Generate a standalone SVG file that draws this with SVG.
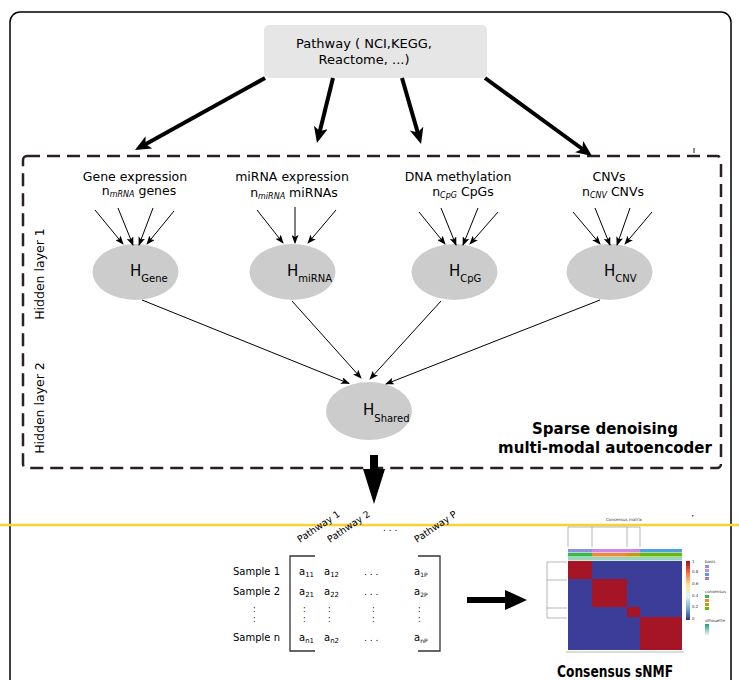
<svg xmlns="http://www.w3.org/2000/svg" width="739" height="680" viewBox="0 0 739 680">
<style>
text{font-family:"DejaVu Sans","Liberation Sans",sans-serif;fill:#000}
.lbl{font-size:12.5px}
.bold{font-weight:bold;font-size:15px}
.ell{fill:#cccccc}
.thin{stroke:#000;stroke-width:1;fill:none;marker-end:url(#ah)}
.thick{stroke:#000;stroke-width:4;fill:none;marker-end:url(#AH)}
.hm{font-size:4px;fill:#333}
</style>
<defs>
<marker id="ah" markerUnits="userSpaceOnUse" viewBox="0 0 9 7" markerWidth="9" markerHeight="7" refX="8" refY="3.5" orient="auto">
<path d="M0,0 L9,3.5 L0,7 L2,3.5 z" fill="#000"/>
</marker>
<marker id="AH" markerUnits="userSpaceOnUse" viewBox="0 0 16 14" markerWidth="16" markerHeight="14" refX="5" refY="7" orient="auto">
<path d="M0,0 L16,7 L0,14 L4,7 z" fill="#000"/>
</marker>
<linearGradient id="cs" x1="0" y1="0" x2="0" y2="1">
<stop offset="0" stop-color="#a50f26"/>
<stop offset="0.2" stop-color="#f46d43"/>
<stop offset="0.4" stop-color="#fee090"/>
<stop offset="0.6" stop-color="#e0f3f8"/>
<stop offset="0.8" stop-color="#74add1"/>
<stop offset="1" stop-color="#313695"/>
</linearGradient>
<linearGradient id="sil" x1="0" y1="0" x2="0" y2="1">
<stop offset="0" stop-color="#1b9e77"/>
<stop offset="1" stop-color="#ffffff"/>
</linearGradient>
</defs>

<rect x="10" y="12" width="721" height="700" rx="10" fill="none" stroke="#000" stroke-width="1.5"/>
<rect x="23" y="156" width="698" height="312" rx="4" fill="none" stroke="#2b2020" stroke-width="2.5" stroke-dasharray="13 7"/>
<line x1="694" y1="148" x2="694" y2="153" stroke="#2b2020" stroke-width="1"/>

<g id="pathway">
<rect x="264" y="25" width="223" height="53" rx="5" fill="#e6e6e6"/>
<text x="364" y="48" font-size="13" text-anchor="middle">Pathway ( NCI,KEGG,</text>
<text x="364" y="64" font-size="13" text-anchor="middle">Reactome, ...)</text>
</g>

<g id="gene-input">
<text class="lbl" x="135" y="181" text-anchor="middle">Gene expression</text>
<text class="lbl" x="139" y="195" text-anchor="middle">n<tspan font-size="8" font-style="italic" dy="2">mRNA</tspan><tspan dy="-2"> genes</tspan></text>
</g>
<g id="mirna-input">
<text class="lbl" x="292" y="181" text-anchor="middle">miRNA expression</text>
<text class="lbl" x="294" y="197" text-anchor="middle">n<tspan font-size="8" font-style="italic" dy="2">miRNA</tspan><tspan dy="-2"> miRNAs</tspan></text>
</g>
<g id="dna-input">
<text class="lbl" x="458" y="181" text-anchor="middle">DNA methylation</text>
<text class="lbl" x="463" y="196" text-anchor="middle">n<tspan font-size="8" font-style="italic" dy="2">CpG</tspan><tspan dy="-2"> CpGs</tspan></text>
</g>
<g id="cnv-input">
<text class="lbl" x="609" y="181" text-anchor="middle">CNVs</text>
<text class="lbl" x="613" y="196" text-anchor="middle">n<tspan font-size="8" font-style="italic" dy="2">CNV</tspan><tspan dy="-2"> CNVs</tspan></text>
</g>

<g id="h-gene">
<ellipse class="ell" cx="135.5" cy="272" rx="43" ry="28"/>
<text x="130" y="276" font-size="15">H<tspan font-size="10" dy="6">Gene</tspan></text>
</g>
<g id="h-mirna">
<ellipse class="ell" cx="292.5" cy="272" rx="43" ry="28"/>
<text x="287" y="276" font-size="15">H<tspan font-size="10" dy="6">miRNA</tspan></text>
</g>
<g id="h-cpg">
<ellipse class="ell" cx="454.5" cy="272" rx="43" ry="28"/>
<text x="449" y="276" font-size="15">H<tspan font-size="10" dy="6">CpG</tspan></text>
</g>
<g id="h-cnv">
<ellipse class="ell" cx="609.5" cy="272" rx="43" ry="28"/>
<text x="604" y="276" font-size="15">H<tspan font-size="10" dy="6">CNV</tspan></text>
</g>
<g id="h-shared">
<ellipse class="ell" cx="369" cy="411" rx="43" ry="29"/>
<text x="363" y="415" font-size="15">H<tspan font-size="10" dy="7">Shared</tspan></text>
</g>

<g id="layer-labels">
<text class="lbl" transform="translate(44,274) rotate(-90)" text-anchor="middle">Hidden layer 1</text>
<text class="lbl" transform="translate(44,408) rotate(-90)" text-anchor="middle">Hidden layer 2</text>
</g>

<g id="autoencoder-label">
<text class="bold" x="605" y="434" text-anchor="middle">Sparse denoising</text>
<text class="bold" x="605" y="453" text-anchor="middle">multi-modal autoencoder</text>
</g>

<g id="connectors">
<line class="thick" x1="265" y1="78" x2="144.6" y2="144.7"/>
<line class="thick" x1="333" y1="78" x2="319.6" y2="132.3"/>
<line class="thick" x1="402" y1="78" x2="418" y2="133.4"/>
<line class="thick" x1="485" y1="78" x2="583.1" y2="149.5"/>

<line class="thin" x1="95" y1="210" x2="123" y2="244"/>
<line class="thin" x1="118" y1="208" x2="133" y2="245"/>
<line class="thin" x1="153" y1="208" x2="139" y2="245"/>
<line class="thin" x1="174" y1="211" x2="147" y2="244"/>

<line class="thin" x1="257" y1="210" x2="283" y2="243"/>
<line class="thin" x1="295" y1="207" x2="295" y2="243"/>
<line class="thin" x1="336" y1="210" x2="308" y2="243"/>

<line class="thin" x1="419" y1="212" x2="445" y2="244"/>
<line class="thin" x1="441" y1="208" x2="456" y2="245"/>
<line class="thin" x1="478" y1="208" x2="463" y2="245"/>
<line class="thin" x1="498" y1="212" x2="470" y2="244"/>

<line class="thin" x1="573" y1="212" x2="600" y2="244"/>
<line class="thin" x1="595" y1="208" x2="610" y2="245"/>
<line class="thin" x1="630" y1="208" x2="617" y2="245"/>
<line class="thin" x1="652" y1="212" x2="625" y2="244"/>

<line class="thin" x1="142" y1="300" x2="349" y2="383.5"/>
<line class="thin" x1="292" y1="301" x2="361" y2="378"/>
<line class="thin" x1="441" y1="301" x2="370" y2="379"/>
<line class="thin" x1="600" y1="300" x2="386" y2="384"/>

<path d="M370,455 L378,455 L378,469 L385,469 L374,504 L363,469 L370,469 z" fill="#000"/>
<path d="M467,597 L505,597 L505,590 L527,600 L505,610 L505,603 L467,603 z" fill="#000"/>
</g>

<line x1="0" y1="525" x2="739" y2="525" stroke="#f7d330" stroke-width="2.5"/>

<g id="matrix">
<text font-size="9.5" transform="translate(300,543) rotate(-34)">Pathway 1</text>
<text font-size="9.5" transform="translate(330,543) rotate(-34)">Pathway 2</text>
<text font-size="9.5" transform="translate(417,543) rotate(-34)">Pathway P</text>
<text font-size="9" x="383" y="531">. . .</text>

<text font-size="10" x="233" y="575">Sample 1</text>
<text font-size="10" x="233" y="595">Sample 2</text>
<text font-size="8" x="253" y="612">:</text>
<text font-size="8" x="253" y="622">:</text>
<text font-size="10" x="233" y="641">Sample n</text>

<path d="M315,556 H290 V651 H315" fill="none" stroke="#333" stroke-width="1.3"/>
<path d="M418,556 H440 V651 H418" fill="none" stroke="#333" stroke-width="1.3"/>

<text font-size="10" x="299" y="575">a<tspan font-size="7" dy="2">11</tspan></text>
<text font-size="10" x="324" y="575">a<tspan font-size="7" dy="2">12</tspan></text>
<text font-size="9" x="364" y="575">. . .</text>
<text font-size="10" x="414" y="575">a<tspan font-size="6" dy="2">1P</tspan></text>

<text font-size="10" x="299" y="595">a<tspan font-size="7" dy="2">21</tspan></text>
<text font-size="10" x="324" y="595">a<tspan font-size="7" dy="2">22</tspan></text>
<text font-size="9" x="364" y="595">. . .</text>
<text font-size="10" x="414" y="595">a<tspan font-size="6" dy="2">2P</tspan></text>

<text font-size="8" x="303" y="612">:</text><text font-size="8" x="303" y="622">:</text>
<text font-size="8" x="328" y="612">:</text><text font-size="8" x="328" y="622">:</text>
<text font-size="8" x="372" y="612">:</text><text font-size="8" x="372" y="622">:</text>
<text font-size="8" x="418" y="612">:</text><text font-size="8" x="418" y="622">:</text>

<text font-size="10" x="299" y="641">a<tspan font-size="7" dy="2">n1</tspan></text>
<text font-size="10" x="324" y="641">a<tspan font-size="7" dy="2">n2</tspan></text>
<text font-size="9" x="364" y="641">. . .</text>
<text font-size="10" x="414" y="641">a<tspan font-size="6" dy="2">nP</tspan></text>
</g>

<g id="consensus">
<text class="hm" x="624" y="521" text-anchor="middle">Consensus matrix</text>
<rect x="692" y="515" width="1.5" height="1.5" fill="#555"/>
<g fill="none" stroke="#999" stroke-width="0.7">
<path d="M568,547 V527 H640 V547 M592,527 V547 M627,527 V547"/>
<path d="M567,562 H547 V618 H567 M547,580 H567 M547,608 H567"/>
<path d="M566,652 H684"/>
</g>
<rect x="568" y="549" width="24" height="3.5" fill="#8f8fe0"/>
<rect x="592" y="549" width="35" height="3.5" fill="#cc88e8"/>
<rect x="627" y="549" width="13" height="3.5" fill="#cc88e8"/>
<rect x="640" y="549" width="42" height="3.5" fill="#4fa0dd"/>
<rect x="568" y="553" width="24" height="3.5" fill="#33bb44"/>
<rect x="592" y="553" width="35" height="3.5" fill="#f08a30"/>
<rect x="627" y="553" width="13" height="3.5" fill="#c0a000"/>
<rect x="640" y="553" width="42" height="3.5" fill="#66bb00"/>
<rect x="568" y="557" width="114" height="3.5" fill="#99d4bb"/>
<rect x="568" y="561" width="114" height="89" fill="#3b3d99"/>
<rect x="568" y="561" width="24" height="18" fill="#a51526"/>
<rect x="592" y="579" width="35" height="28" fill="#a51526"/>
<rect x="627" y="607" width="13" height="10" fill="#a51526"/>
<rect x="640" y="617" width="42" height="33" fill="#a51526"/>
<rect x="686" y="561" width="4" height="59" fill="url(#cs)"/>
<text class="hm" x="692" y="563">1</text>
<text class="hm" x="692" y="573">0.8</text>
<text class="hm" x="692" y="585">0.6</text>
<text class="hm" x="692" y="597">0.4</text>
<text class="hm" x="692" y="608">0.2</text>
<text class="hm" x="692" y="620">0</text>
<text class="hm" x="705" y="563">basis</text>
<rect x="705" y="565" width="4" height="3" fill="#8f8fe0"/>
<rect x="705" y="569" width="4" height="3" fill="#cc88e8"/>
<rect x="705" y="573" width="4" height="3" fill="#4fa0dd"/>
<rect x="705" y="577" width="4" height="3" fill="#b070e0"/>
<text class="hm" x="705" y="593">consensus</text>
<rect x="705" y="595" width="4" height="3" fill="#33bb44"/>
<rect x="705" y="599" width="4" height="3" fill="#f08a30"/>
<rect x="705" y="603" width="4" height="3" fill="#c0a000"/>
<rect x="705" y="607" width="4" height="3" fill="#66bb00"/>
<text class="hm" x="705" y="622">silhouette</text>
<rect x="705" y="624" width="4" height="12" fill="url(#sil)"/>
<text class="bold" x="615" y="677" text-anchor="middle" font-size="16" textLength="116" lengthAdjust="spacingAndGlyphs">Consensus sNMF</text>
</g>
</svg>
